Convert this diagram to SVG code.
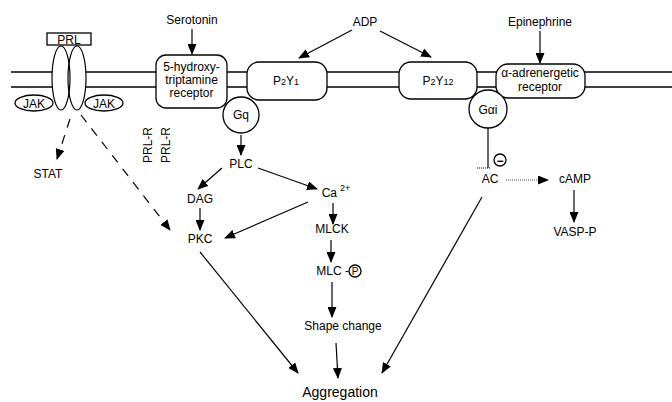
<svg xmlns="http://www.w3.org/2000/svg" width="672" height="402" viewBox="0 0 672 402">
<style>
text{font-family:"Liberation Sans",Arial,sans-serif;font-size:12px;fill:#000;text-anchor:middle}
.box{fill:#fff;stroke:#000;stroke-width:1.3}
.ln{stroke:#000;stroke-width:1.2;fill:none}
.arr{stroke:#000;stroke-width:1.2;fill:none;marker-end:url(#ah)}
.dash{stroke-dasharray:9 8}
.sub{font-size:9px}
</style>
<defs>
<marker id="ah" markerUnits="userSpaceOnUse" markerWidth="11" markerHeight="9" refX="10" refY="4.5" orient="auto">
<path d="M0,0 L11,4.5 L0,9 z" fill="#000"/>
</marker>
</defs>
<rect width="672" height="402" fill="#fff"/>
<g id="membrane">
<line x1="11" y1="72" x2="672" y2="72" stroke="#000" stroke-width="1.5"/>
<line x1="11" y1="87" x2="672" y2="87" stroke="#000" stroke-width="1.5"/>
</g>
<g id="prl-receptor">
<rect x="47" y="33" width="44" height="12" class="box"/>
<text x="69" y="43.5">PRL</text>
<ellipse cx="61" cy="78" rx="9" ry="32" fill="#fff"/>
<ellipse cx="77" cy="78" rx="9" ry="32" fill="#fff"/>
<ellipse cx="61" cy="78" rx="9" ry="32" class="ln"/>
<ellipse cx="77" cy="78" rx="9" ry="32" class="ln"/>
</g>
<g id="jak-left">
<ellipse cx="34" cy="103" rx="19" ry="8" class="box"/>
<text x="34" y="107.5">JAK</text>
</g>
<g id="jak-right">
<ellipse cx="104" cy="103" rx="19" ry="8" class="box"/>
<text x="104" y="107.5">JAK</text>
</g>
<g id="ht-receptor">
<rect x="156" y="55" width="71" height="53" rx="10" class="box"/>
<text x="191.5" y="71">5-hydroxy-</text>
<text x="191.5" y="84">triptamine</text>
<text x="191.5" y="97">receptor</text>
</g>
<g id="p2y1">
<rect x="247" y="62" width="80" height="38" rx="12" class="box"/>
<text x="286" y="85">P<tspan class="sub">2</tspan>Y<tspan class="sub">1</tspan></text>
</g>
<g id="p2y12">
<rect x="399" y="62" width="78" height="37" rx="12" class="box"/>
<text x="438" y="85">P<tspan class="sub">2</tspan>Y<tspan class="sub">12</tspan></text>
</g>
<g id="alpha-receptor">
<rect x="496" y="64" width="89" height="34" rx="12" class="box"/>
<text x="540" y="77">α-adrenergetic</text>
<text x="540" y="91">receptor</text>
</g>
<g id="gq">
<circle cx="241" cy="115" r="18" class="box"/>
<text x="241" y="119">Gq</text>
</g>
<g id="gai">
<circle cx="488" cy="109" r="19" class="box"/>
<text x="488" y="113.5">Gαi</text>
</g>
<g id="serotonin"><text x="192" y="24">Serotonin</text></g>
<g id="adp"><text x="365" y="26">ADP</text></g>
<g id="epinephrine"><text x="540" y="26">Epinephrine</text></g>
<g id="stat"><text x="48" y="178">STAT</text></g>
<g id="prl-r-labels">
<text transform="translate(152,145) rotate(-90)">PRL-R</text>
<text transform="translate(170,145) rotate(-90)">PRL-R</text>
</g>
<g id="plc"><text x="241" y="168">PLC</text></g>
<g id="dag"><text x="200" y="203">DAG</text></g>
<g id="pkc"><text x="200" y="243">PKC</text></g>
<g id="ca"><text x="336" y="197">Ca<tspan dx="3" dy="-6" style="font-size:9px">2+</tspan></text></g>
<g id="mlck"><text x="332" y="233">MLCK</text></g>
<g id="mlc-p">
<text x="349" y="275" style="text-anchor:end">MLC -</text>
<circle cx="355" cy="271" r="6" class="box"/>
<text x="355" y="275" style="font-size:10px">P</text>
</g>
<g id="shape-change"><text x="343" y="330">Shape change</text></g>
<g id="aggregation"><text x="340" y="397" style="font-size:14px">Aggregation</text></g>
<g id="ac"><text x="490" y="183">AC</text></g>
<g id="camp"><text x="575" y="183">cAMP</text></g>
<g id="vasp"><text x="575" y="236">VASP-P</text></g>
<g id="inhibit-sign">
<circle cx="500" cy="160" r="6" class="box"/>
<text x="500" y="164.5" style="font-weight:bold">−</text>
</g>
<g id="connectors">
<line x1="192" y1="29" x2="192" y2="54" class="arr"/>
<line x1="352" y1="30" x2="299" y2="58" class="arr"/>
<line x1="380" y1="31" x2="431" y2="57" class="arr"/>
<line x1="540" y1="31" x2="540" y2="63" class="arr"/>
<line x1="70" y1="119" x2="57" y2="159" class="arr dash"/>
<line x1="81" y1="115" x2="170" y2="230" class="arr dash"/>
<line x1="241" y1="135" x2="241" y2="155" class="arr"/>
<line x1="222" y1="168" x2="198" y2="189" class="arr"/>
<line x1="258" y1="168" x2="317" y2="189" class="arr"/>
<line x1="200" y1="208" x2="200" y2="230" class="arr"/>
<line x1="308" y1="202" x2="225" y2="238" class="arr"/>
<line x1="333" y1="203" x2="333" y2="224" class="arr"/>
<line x1="331" y1="240" x2="331" y2="262" class="arr"/>
<line x1="332" y1="282" x2="332" y2="317" class="arr"/>
<line x1="336" y1="343" x2="338" y2="378" class="arr"/>
<line x1="200" y1="252" x2="298" y2="373" class="arr"/>
<line x1="482" y1="197" x2="382" y2="373" class="arr"/>
<line x1="488" y1="128" x2="488" y2="168" class="ln"/>
<line x1="477" y1="168" x2="490" y2="168" stroke="#000" stroke-width="1.2" stroke-dasharray="1 1"/>
<line x1="506" y1="180" x2="548" y2="180" stroke="#444" stroke-width="1.2" stroke-dasharray="1 1" marker-end="url(#ah)"/>
<line x1="574" y1="190" x2="574" y2="222" class="arr"/>
</g>
</svg>
